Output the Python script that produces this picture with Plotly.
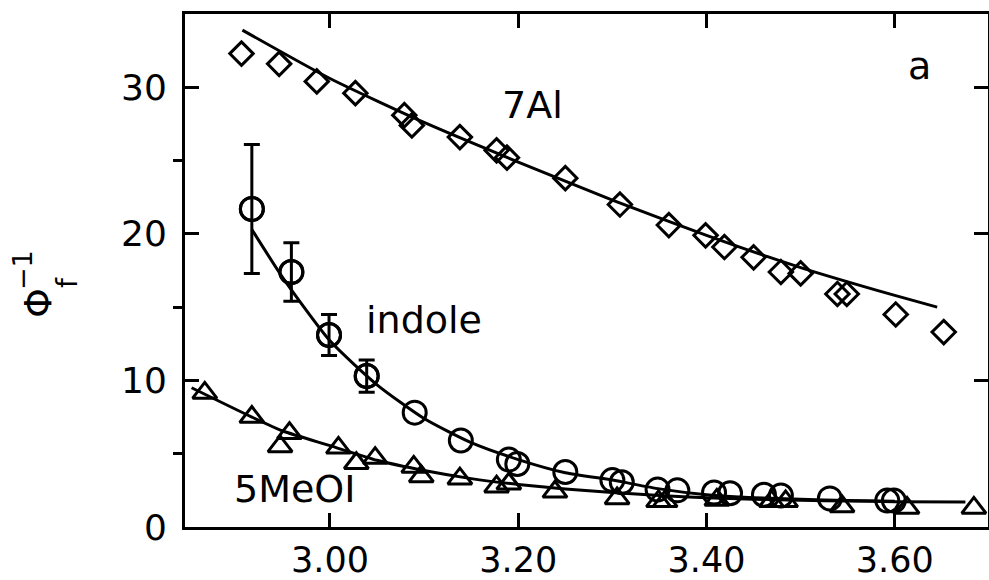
import plotly.graph_objects as go

# ---- measured points -------------------------------------------------------
# 7-azaindole (7Al): open diamonds
al7_x = [2.906, 2.946, 2.986, 3.027, 3.079, 3.087, 3.138, 3.177, 3.188, 3.250,
         3.308, 3.360, 3.399, 3.419, 3.450, 3.479, 3.500, 3.539, 3.549, 3.601, 3.652]
al7_y = [32.3, 31.6, 30.4, 29.6, 28.1, 27.4, 26.6, 25.7, 25.2, 23.8,
         22.0, 20.6, 19.9, 19.1, 18.4, 17.4, 17.3, 15.9, 15.9, 14.5, 13.3]

# indole: open circles (first four carry error bars)
indole_x = [2.917, 2.959, 2.999, 3.039, 3.090, 3.139, 3.190, 3.199, 3.250, 3.300,
            3.310, 3.348, 3.369, 3.408, 3.425, 3.461, 3.479, 3.531, 3.592, 3.599]
indole_y = [21.7, 17.4, 13.1, 10.3, 7.8, 5.9, 4.6, 4.3, 3.75, 3.2,
            3.05, 2.55, 2.5, 2.35, 2.3, 2.2, 2.15, 1.95, 1.8, 1.8]
indole_err = [4.4, 2.0, 1.4, 1.1]

# 5-methoxyindole (5MeOI): open triangles
meoi_x = [2.867, 2.917, 2.947, 2.957, 3.009, 3.028, 3.048, 3.089, 3.097, 3.138,
          3.177, 3.190, 3.239, 3.305, 3.349, 3.356, 3.411, 3.469, 3.484, 3.544,
          3.613, 3.684]
meoi_y = [9.15, 7.5, 5.5, 6.4, 5.4, 4.35, 4.7, 4.1, 3.45, 3.3,
          2.75, 2.95, 2.4, 1.95, 1.75, 1.75, 1.85, 1.75, 1.75, 1.4,
          1.3, 1.3]

# ---- fitted curves ---------------------------------------------------------
fit_al7_x = [2.907, 3.00, 3.10, 3.20, 3.30, 3.40, 3.50, 3.60, 3.645]
fit_al7_y = [33.9, 30.6, 27.6, 24.9, 22.3, 19.9, 17.7, 15.8, 15.0]

fit_indole_x = [2.917, 2.95, 3.00, 3.05, 3.10, 3.15, 3.20, 3.25, 3.30, 3.35,
                3.40, 3.45, 3.50, 3.55, 3.60]
fit_indole_y = [20.3, 17.0, 12.7, 9.7, 7.4, 5.75, 4.6, 3.7, 3.2, 2.6,
                2.2, 2.0, 1.9, 1.8, 1.75]

fit_meoi_x = [2.853, 2.917, 2.95, 3.00, 3.05, 3.10, 3.15, 3.20, 3.25, 3.30,
              3.35, 3.40, 3.45, 3.50, 3.55, 3.60, 3.675]
fit_meoi_y = [9.5, 7.5, 6.55, 5.55, 4.55, 3.85, 3.3, 2.9, 2.6, 2.35,
              2.15, 2.0, 1.9, 1.82, 1.77, 1.73, 1.7]

x_ticks = [3.00, 3.20, 3.40, 3.60]
y_ticks = [0, 10, 20, 30]

# ---- canvas geometry (pixels) ---------------------------------------------
W, H = 989, 580
L, R, T, B = 185, 988, 14, 527


def px(xp):
    return (xp - L) / (R - L)


def py(yp):
    return (B - yp) / (B - T)


INK = "black"
FONT = "DejaVu Sans"
STROKE = 3

fig = go.Figure()

line_style = dict(color=INK, width=STROKE, shape="spline", smoothing=0.6)
fig.add_trace(go.Scatter(x=fit_al7_x, y=fit_al7_y, mode="lines", line=line_style))
fig.add_trace(go.Scatter(x=fit_indole_x, y=fit_indole_y, mode="lines", line=line_style))
fig.add_trace(go.Scatter(x=fit_meoi_x, y=fit_meoi_y, mode="lines", line=line_style))

fig.add_trace(go.Scatter(
    x=al7_x, y=al7_y, mode="markers",
    marker=dict(symbol="diamond-open", size=18, color=INK, line=dict(width=STROKE, color=INK)),
))
fig.add_trace(go.Scatter(
    x=meoi_x, y=meoi_y, mode="markers",
    marker=dict(symbol="triangle-up-open", size=21, color=INK, line=dict(width=STROKE, color=INK)),
))
fig.add_trace(go.Scatter(
    x=indole_x, y=indole_y, mode="markers",
    marker=dict(symbol="circle-open", size=23, color=INK, line=dict(width=STROKE, color=INK)),
))
# error bars on the low-temperature indole points
n_err = len(indole_err)
fig.add_trace(go.Scatter(
    x=indole_x[:n_err], y=indole_y[:n_err], mode="markers",
    marker=dict(symbol="circle-open", size=23, color=INK, line=dict(width=STROKE, color=INK)),
    error_y=dict(type="data", array=indole_err, visible=True,
                 color=INK, thickness=STROKE, width=8),
))

# ---- axes ------------------------------------------------------------------
fig.update_xaxes(
    range=[2.846, 3.699], tickvals=x_ticks, tickformat=".2f", automargin=False,
    showline=True, linewidth=3, linecolor=INK, mirror="ticks",
    ticks="inside", ticklen=14, tickwidth=2.5, tickcolor=INK,
    showgrid=False, zeroline=False,
    tickfont=dict(family=FONT, size=35, color=INK), ticklabelstandoff=0,
)
fig.update_yaxes(
    range=[0, 35], tickvals=y_ticks, automargin=False,
    showline=True, linewidth=3, linecolor=INK, mirror="ticks",
    ticks="inside", ticklen=14, tickwidth=2.5, tickcolor=INK,
    minor=dict(tickvals=[5, 15, 25], ticks="outside", ticklen=9,
               tickwidth=2.5, tickcolor=INK, showgrid=False),
    showgrid=False, zeroline=False,
    tickfont=dict(family=FONT, size=36, color=INK), ticklabelstandoff=8,
)

# ---- text labels -------------------------------------------------------------
label_font = dict(family=FONT, size=38, color=INK)
labels = [("7Al", 500, 105), ("indole", 364, 320), ("5MeOI", 232, 489), ("a", 906, 66)]
for text, xp, yp in labels:
    fig.add_annotation(text=text, x=px(xp), y=py(yp), xref="paper", yref="paper",
                       xanchor="left", yanchor="middle", showarrow=False, font=label_font)

# y-axis quantity: Φ with stacked subscript f and superscript −1, read bottom to top
ytitle = [("Φ", 38, 303, 38), ("−1", 22, 270, 27), ("f", 67, 283, 28)]
for text, xp, yp, size in ytitle:
    fig.add_annotation(text=text, x=px(xp), y=py(yp), xref="paper", yref="paper",
                       xanchor="center", yanchor="middle", textangle=-90,
                       showarrow=False, font=dict(family=FONT, size=size, color=INK))

fig.update_layout(
    width=W, height=H,
    margin=dict(l=L, r=W - R, t=T, b=H - B),
    paper_bgcolor="white", plot_bgcolor="white",
    showlegend=False,
    font=dict(family=FONT, color=INK),
)

fig.write_html("out.html")
